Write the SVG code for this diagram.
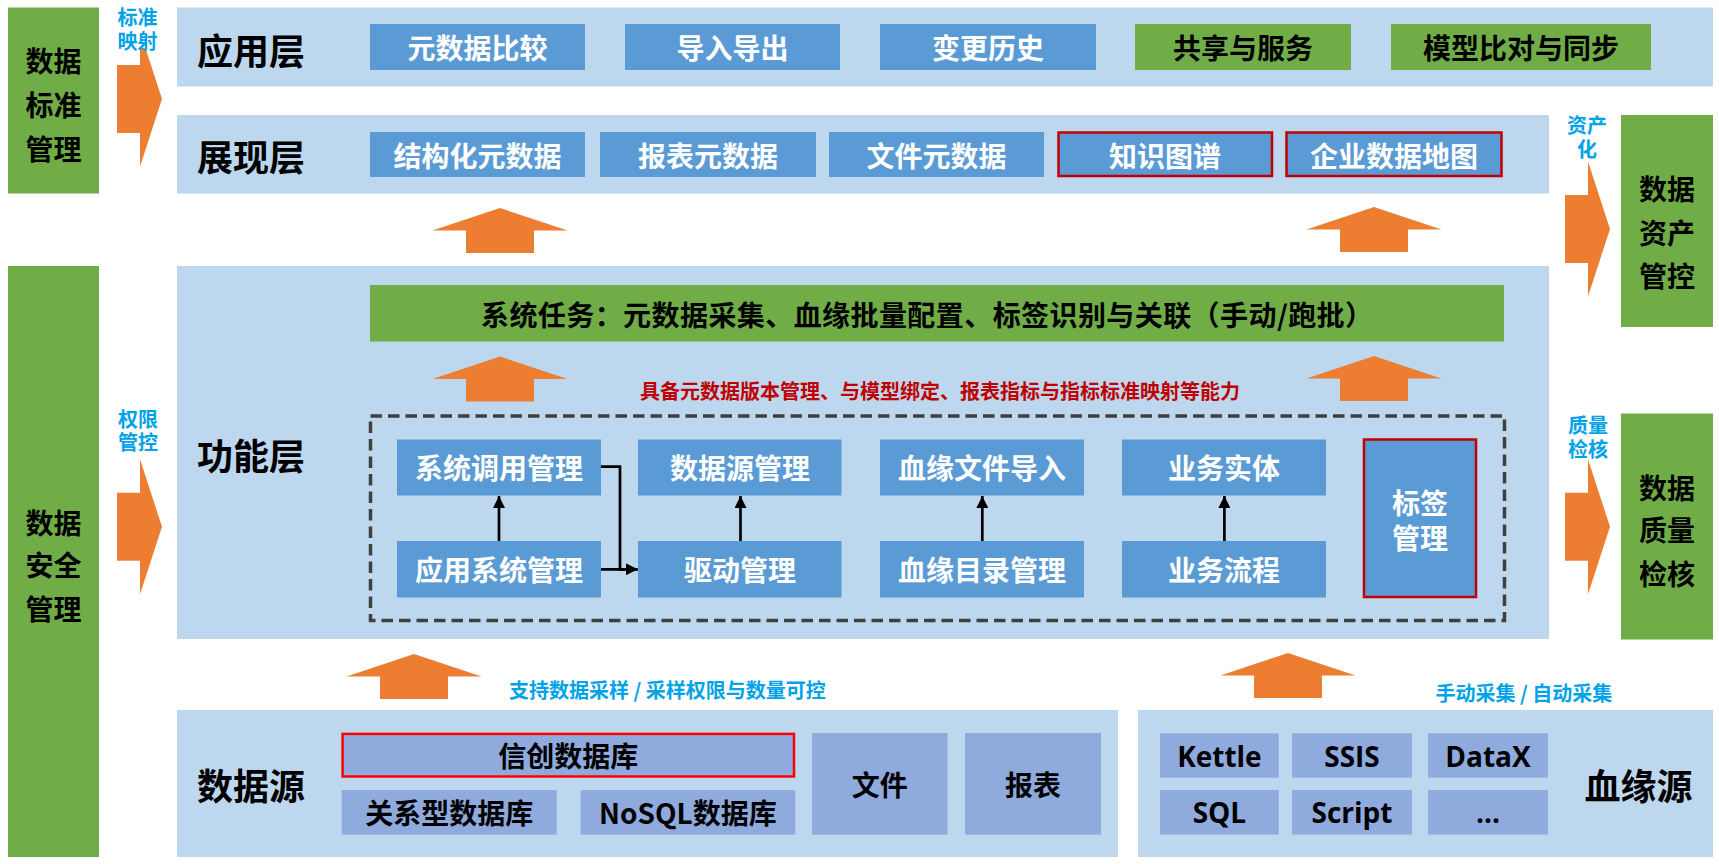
<svg xmlns="http://www.w3.org/2000/svg" width="1719" height="864" viewBox="0 0 1719 864">
<style>
.panel{fill:#BDD7EE}
.blue{fill:#5B9BD5}
.green{fill:#70AD47}
.src{fill:#8FAADC}
.orange{fill:#ED7D31}
.redb{stroke:#C00000;stroke-width:2.5}
.redb2{stroke:#FF0000;stroke-width:2.5}
text{font-family:"Noto Sans CJK SC","Noto Sans",sans-serif;font-weight:700;text-anchor:middle;dominant-baseline:central}
.w{fill:#fff;font-size:28px}
.k{fill:#000;font-size:28px}
.lat{font-family:"Open Sans","Noto Sans CJK SC",sans-serif;fill:#000;font-size:28px}
.title{fill:#000;font-size:36px}
.cyan{fill:#00A2E8;font-size:20px}
.cyanl{fill:#00A2E8;font-size:20px;text-anchor:start}
.red{fill:#C00000;font-size:20px;text-anchor:start}
.conn{stroke:#000;stroke-width:2.7;fill:none}
</style>
<defs>
<path id="up" d="M0,0 L67.5,22.5 L34,22.5 L34,45 L-34,45 L-34,22.5 L-67.5,22.5 Z"/>
<path id="rt" d="M0,-34 L23,-34 L23,-67.5 L45,0 L23,67.5 L23,34 L0,34 Z"/>
<marker id="ah" viewBox="0 0 12 12" refX="12" refY="6" markerWidth="12" markerHeight="12" markerUnits="userSpaceOnUse" orient="auto">
<path d="M0,0 L12,6 L0,12 Z" fill="#000"/>
</marker>
</defs>
<rect width="1719" height="864" fill="#fff"/>

<g id="std-mgmt">
<rect class="green" x="8" y="7.5" width="91" height="186"/>
<text class="k" x="53.5" y="60"><tspan x="53.5" y="60">数据</tspan><tspan x="53.5" y="104">标准</tspan><tspan x="53.5" y="147.5">管理</tspan></text>
</g>
<g id="sec-mgmt">
<rect class="green" x="8" y="266" width="91" height="591"/>
<text class="k" x="53.5" y="521.7"><tspan x="53.5" y="521.7">数据</tspan><tspan x="53.5" y="564">安全</tspan><tspan x="53.5" y="608.3">管理</tspan></text>
</g>
<g id="asset-mgmt">
<rect class="green" x="1621" y="115" width="92" height="212"/>
<text class="k" x="1667" y="188.3"><tspan x="1667" y="188.3">数据</tspan><tspan x="1667" y="231.7">资产</tspan><tspan x="1667" y="275">管控</tspan></text>
</g>
<g id="quality-mgmt">
<rect class="green" x="1621" y="413.5" width="92" height="226"/>
<text class="k" x="1667" y="486.7"><tspan x="1667" y="486.7">数据</tspan><tspan x="1667" y="529.3">质量</tspan><tspan x="1667" y="573.3">检核</tspan></text>
</g>

<g id="side-arrows">
<polygon class="orange" points="117,65 140,65 140,48 145.4,48 162,99 140,166.5 140,133 117,133"/>
<text class="cyan" x="137.5" y="16"><tspan x="137.5" y="16">标准</tspan><tspan x="137.5" y="40">映射</tspan></text>
<use href="#rt" class="orange" x="117" y="526.7"/>
<text class="cyan" x="138" y="417.5"><tspan x="138" y="417.5">权限</tspan><tspan x="138" y="440.8">管控</tspan></text>
<use href="#rt" class="orange" x="1565" y="229"/>
<text class="cyan" x="1587" y="124"><tspan x="1587" y="124">资产</tspan><tspan x="1587" y="147.7">化</tspan></text>
<use href="#rt" class="orange" x="1565" y="526.7"/>
<text class="cyan" x="1588" y="424"><tspan x="1588" y="424">质量</tspan><tspan x="1588" y="448.3">检核</tspan></text>
</g>

<g id="app-layer">
<rect class="panel" x="177" y="7.5" width="1536" height="79"/>
<text class="title" x="251" y="48.5">应用层</text>
<rect class="blue" x="370" y="24" width="215" height="46"/>
<text class="w" x="477.5" y="47">元数据比较</text>
<rect class="blue" x="625" y="24" width="215" height="46"/>
<text class="w" x="732.5" y="47">导入导出</text>
<rect class="blue" x="880" y="24" width="216" height="46"/>
<text class="w" x="988" y="47">变更历史</text>
<rect class="green" x="1135" y="24" width="216" height="46"/>
<text class="k" x="1243" y="47">共享与服务</text>
<rect class="green" x="1391" y="24" width="260" height="46"/>
<text class="k" x="1521" y="47">模型比对与同步</text>
</g>

<g id="view-layer">
<rect class="panel" x="177" y="115" width="1372" height="78.5"/>
<text class="title" x="251" y="155">展现层</text>
<rect class="blue" x="370" y="132" width="215" height="45"/>
<text class="w" x="477.5" y="154.5">结构化元数据</text>
<rect class="blue" x="600" y="132" width="216" height="45"/>
<text class="w" x="708" y="154.5">报表元数据</text>
<rect class="blue" x="829" y="132" width="215" height="45"/>
<text class="w" x="936.5" y="154.5">文件元数据</text>
<rect class="blue redb" x="1058.5" y="132.5" width="213.5" height="43.5"/>
<text class="w" x="1165" y="154.5">知识图谱</text>
<rect class="blue redb" x="1286.5" y="132.5" width="215" height="43.5"/>
<text class="w" x="1394" y="154.5">企业数据地图</text>
</g>

<g id="up-arrows-top">
<use href="#up" class="orange" x="500" y="208"/>
<use href="#up" class="orange" x="1374" y="207"/>
</g>

<g id="func-layer">
<rect class="panel" x="177" y="266" width="1372" height="373"/>
<text class="title" x="251" y="454">功能层</text>
<rect class="green" x="370" y="285" width="1134" height="56.5"/>
<text class="k" x="481" y="313.5" style="text-anchor:start" textLength="892" lengthAdjust="spacing">系统任务：元数据采集、血缘批量配置、标签识别与关联（手动/跑批）</text>
<use href="#up" class="orange" x="500" y="356.5"/>
<use href="#up" class="orange" x="1374" y="356"/>
<text class="red" x="640" y="390.7">具备元数据版本管理、与模型绑定、报表指标与指标标准映射等能力</text>
<rect x="370.5" y="416" width="1134" height="204.5" fill="none" stroke="#404040" stroke-width="3.5" stroke-dasharray="11.5 6"/>
</g>

<g id="sys-call">
<rect class="blue" x="397" y="439.5" width="204" height="56"/>
<text class="w" x="499" y="467">系统调用管理</text>
</g>
<g id="app-sys">
<rect class="blue" x="397" y="541" width="204" height="56.5"/>
<text class="w" x="499" y="569">应用系统管理</text>
</g>
<g id="ds-mgmt">
<rect class="blue" x="638" y="439.5" width="203.5" height="56"/>
<text class="w" x="740" y="467">数据源管理</text>
</g>
<g id="driver-mgmt">
<rect class="blue" x="638" y="541" width="203.5" height="56.5"/>
<text class="w" x="740" y="569">驱动管理</text>
</g>
<g id="lineage-import">
<rect class="blue" x="880" y="439.5" width="204" height="56"/>
<text class="w" x="982" y="467">血缘文件导入</text>
</g>
<g id="lineage-dir">
<rect class="blue" x="880" y="541" width="204" height="56.5"/>
<text class="w" x="982" y="569">血缘目录管理</text>
</g>
<g id="biz-entity">
<rect class="blue" x="1122" y="439.5" width="204" height="56"/>
<text class="w" x="1224" y="467">业务实体</text>
</g>
<g id="biz-flow">
<rect class="blue" x="1122" y="541" width="204" height="56.5"/>
<text class="w" x="1224" y="569">业务流程</text>
</g>
<g id="tag-mgmt">
<rect class="blue redb" x="1364" y="439.5" width="112" height="157.5"/>
<text class="w" x="1420" y="501.7"><tspan x="1420" y="501.7">标签</tspan><tspan x="1420" y="536.7">管理</tspan></text>
</g>

<g id="connectors">
<line class="conn" x1="499" y1="541" x2="499" y2="496" marker-end="url(#ah)"/>
<line class="conn" x1="740.5" y1="541" x2="740.5" y2="496" marker-end="url(#ah)"/>
<line class="conn" x1="982.3" y1="541" x2="982.3" y2="496" marker-end="url(#ah)"/>
<line class="conn" x1="1224.4" y1="541" x2="1224.4" y2="496" marker-end="url(#ah)"/>
<polyline class="conn" points="601,466.7 620,466.7 620,569.3 637.5,569.3" marker-end="url(#ah)"/>
<line class="conn" x1="601" y1="569.3" x2="637.5" y2="569.3" marker-end="url(#ah)"/>
</g>

<g id="up-arrows-bottom">
<use href="#up" class="orange" x="414" y="654"/>
<use href="#up" class="orange" x="1288" y="653"/>
<text class="cyanl" x="509" y="689.3">支持数据采样 / 采样权限与数量可控</text>
<text class="cyanl" x="1435.5" y="692.3">手动采集 / 自动采集</text>
</g>

<g id="data-source">
<rect class="panel" x="177" y="710" width="941" height="147"/>
<text class="title" x="251" y="784">数据源</text>
<rect class="src redb2" x="342.6" y="733.9" width="451.4" height="42.6"/>
<text class="k" x="568.3" y="755.2">信创数据库</text>
<rect class="src" x="341.7" y="790" width="215" height="44.7"/>
<text class="k" x="449.2" y="812.3">关系型数据库</text>
<rect class="src" x="580.6" y="790" width="214.6" height="44.7"/>
<text class="k" x="687.9" y="812.3">NoSQL数据库</text>
<rect class="src" x="812" y="733" width="135.5" height="101.7"/>
<text class="k" x="879.8" y="783.8">文件</text>
<rect class="src" x="965" y="733" width="136" height="101.7"/>
<text class="k" x="1033" y="783.8">报表</text>
</g>

<g id="lineage-source">
<rect class="panel" x="1138" y="710" width="575" height="147"/>
<text class="title" x="1638.4" y="784">血缘源</text>
<rect class="src" x="1160" y="733.3" width="118.8" height="44.4"/>
<text class="lat" x="1219.4" y="755.5">Kettle</text>
<rect class="src" x="1292" y="733.3" width="120" height="44.4"/>
<text class="lat" x="1352" y="755.5">SSIS</text>
<rect class="src" x="1428" y="733.3" width="120" height="44.4"/>
<text class="lat" x="1488" y="755.5">DataX</text>
<rect class="src" x="1160" y="790" width="118.8" height="44.5"/>
<text class="lat" x="1219.4" y="812.3">SQL</text>
<rect class="src" x="1292" y="790" width="120" height="44.5"/>
<text class="lat" x="1352" y="812.3">Script</text>
<rect class="src" x="1428" y="790" width="120" height="44.5"/>
<text class="lat" x="1488" y="812.3">...</text>
</g>
</svg>
